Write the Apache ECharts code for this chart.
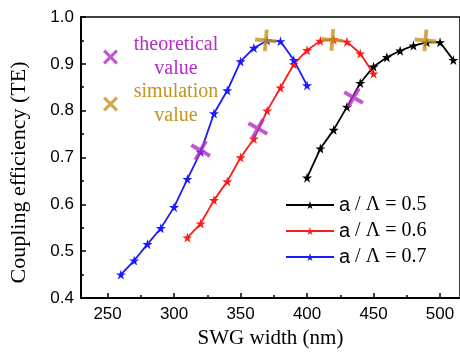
<!DOCTYPE html>
<html>
<head>
<meta charset="utf-8">
<script src="https://cdn.jsdelivr.net/npm/echarts@6/dist/echarts.min.js"></script>
<style>
  html, body { margin: 0; padding: 0; background: #fff; }
  #chart { width: 460px; height: 354px; }
</style>
</head>
<body>
<div id="chart"></div>
<script>
// a/Λ = 0.5 (black)
const xBlack = [400, 410, 420, 430, 440, 450, 460, 470, 480, 490, 500, 510];
const yBlack = [0.657, 0.719, 0.759, 0.808, 0.859, 0.894, 0.914, 0.928, 0.939, 0.946, 0.946, 0.908];
// a/Λ = 0.6 (red)
const xRed = [310, 320, 330, 340, 350, 360, 370, 380, 390, 400, 410, 420, 430, 440, 450];
const yRed = [0.529, 0.559, 0.609, 0.649, 0.700, 0.740, 0.800, 0.849, 0.899, 0.929, 0.949, 0.952, 0.947, 0.922, 0.879];
// a/Λ = 0.7 (blue)
const xBlue = [260, 270, 280, 290, 300, 310, 320, 330, 340, 350, 360, 370, 380, 390, 400];
const yBlue = [0.450, 0.480, 0.515, 0.549, 0.594, 0.654, 0.712, 0.794, 0.843, 0.905, 0.934, 0.950, 0.948, 0.908, 0.854];

const theoX = [320, 363, 435];
const theoY = [0.715, 0.762, 0.828];
const simX = [369, 419, 489];
const simY = [0.950, 0.951, 0.950];

const lineNames = ['0.5', '0.6', '0.7'];
const markNames = ['theoretical value', 'simulation value'];
const xMajorTicks = [250, 300, 350, 400, 450, 500];
const xMinorTicks = [275, 325, 375, 425, 475];

const STAR = 'path://M50,0L61,35L98,35L68,57L79,91L50,70L21,91L32,57L2,35L39,35Z';
const CROSS = 'path://M0,3L3,0L10,7L17,0L20,3L13,10L20,17L17,20L10,13L3,20L0,17L7,10Z';
const PURPLE = '#b52cc9';
const GOLD = '#c4941c';
const SERIF = '"Liberation Serif", "DejaVu Serif", serif';
const SANS = '"Liberation Sans", Arial, sans-serif';

const zip = (xs, ys) => xs.map((x, i) => [x, ys[i]]);

function lineSeries(name, color, xs, ys) {
  return {
    name: name,
    type: 'line',
    data: zip(xs, ys),
    symbol: STAR,
    symbolSize: 10,
    showAllSymbol: true,
    lineStyle: { color: color, width: 1.8 },
    itemStyle: { color: color },
    z: 3
  };
}

const chart = echarts.init(document.getElementById('chart'), null, { renderer: 'canvas' });

chart.setOption({
  animation: false,
  grid: {
    left: 79, right: 0, top: 17, bottom: 52,
    show: true, borderColor: '#000', borderWidth: 1.5
  },
  legend: [
    {
      data: lineNames,
      orient: 'vertical',
      left: 280, top: 190,
      itemWidth: 48, itemHeight: 10, itemGap: 6,
      formatter: n => '{a|a}{b| / Λ = ' + n + '}',
      textStyle: {
        rich: {
          a: { fontFamily: SANS, fontSize: 20, color: '#000', lineHeight: 20 },
          b: { fontFamily: SERIF, fontSize: 20, color: '#000', lineHeight: 20 }
        }
      }
    },
    {
      data: [
        { name: markNames[0], icon: CROSS, symbolRotate: 0, textStyle: { color: PURPLE } },
        { name: markNames[1], icon: CROSS, symbolRotate: 0, textStyle: { color: GOLD } }
      ],
      orient: 'vertical',
      left: 98, top: 30,
      itemWidth: 15, itemHeight: 15, itemGap: 3,
      symbolRotate: 0,
      formatter: n => n.split(' ').map(w => '{t|' + w + '}').join('\n'),
      textStyle: {
        padding: [0, 0, 0, 10],
        rich: {
          t: { fontFamily: SERIF, fontSize: 20, lineHeight: 24, width: 86, align: 'center' }
        }
      }
    }
  ],
  xAxis: [
    {
      type: 'value', min: 230, max: 515,
      name: 'SWG width (nm)', nameLocation: 'middle', nameGap: 30,
      nameTextStyle: { fontFamily: SERIF, fontSize: 21, color: '#000' },
      axisLine: { lineStyle: { color: '#000', width: 2 } },
      axisTick: { inside: true, length: 5, customValues: xMajorTicks, lineStyle: { color: '#000', width: 1.5 } },
      axisLabel: { customValues: xMajorTicks, fontFamily: SANS, fontSize: 17, color: '#000', margin: 8 },
      splitLine: { show: false }
    },
    {
      type: 'value', min: 230, max: 515, position: 'bottom', gridIndex: 0,
      axisLine: { show: false },
      axisTick: { inside: true, length: 3, customValues: xMinorTicks, lineStyle: { color: '#000', width: 1.5 } },
      axisLabel: { show: false },
      splitLine: { show: false }
    }
  ],
  yAxis: {
    type: 'value', min: 0.4, max: 1.0, interval: 0.1,
    name: 'Coupling efficiency (TE)', nameLocation: 'middle', nameGap: 51,
    nameTextStyle: { fontFamily: SERIF, fontSize: 22, color: '#000', padding: [0, 30, 0, 0] },
    axisLine: { show: true, lineStyle: { color: '#000', width: 2 } },
    axisTick: { inside: true, length: 5, lineStyle: { color: '#000', width: 1.5 } },
    minorTick: { show: true, splitNumber: 2, length: 3, lineStyle: { color: '#000', width: 1.5 } },
    axisLabel: { fontFamily: SANS, fontSize: 17, color: '#000', margin: 7, formatter: v => v.toFixed(1) },
    splitLine: { show: false }
  },
  series: [
    lineSeries(lineNames[0], '#000000', xBlack, yBlack),
    lineSeries(lineNames[1], '#ff1a1a', xRed, yRed),
    lineSeries(lineNames[2], '#1a1aff', xBlue, yBlue),
    {
      name: markNames[0], type: 'scatter', data: zip(theoX, theoY),
      symbol: CROSS, symbolSize: 18, symbolRotate: 15,
      itemStyle: { color: PURPLE }, z: 5
    },
    {
      name: markNames[1], type: 'scatter', data: zip(simX, simY),
      symbol: CROSS, symbolSize: 18, symbolRotate: 40,
      itemStyle: { color: GOLD }, z: 5
    }
  ]
});
</script>
</body>
</html>
